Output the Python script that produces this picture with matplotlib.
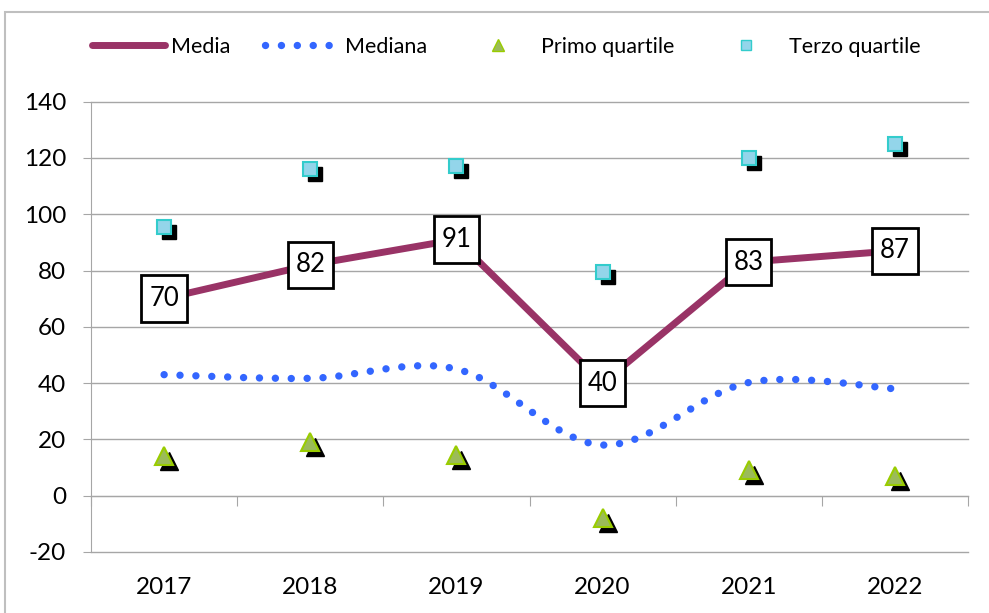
import matplotlib
matplotlib.use('Agg')
import matplotlib.pyplot as plt
from matplotlib.path import Path
from matplotlib.patches import PathPatch, Rectangle
from matplotlib.lines import Line2D
import matplotlib.transforms as mtransforms
import numpy as np

years = ['2017', '2018', '2019', '2020', '2021', '2022']
media = [70, 82, 91, 40, 83, 87]
mediana = [43, 41.7, 45, 18, 40.2, 38]
primo_quartile = [14, 19, 14.5, -8, 9, 7]
terzo_quartile = [95.5, 116, 117, 79.5, 120, 125]
y_ticks = list(range(-20, 141, 20))

plt.rcParams['font.family'] = ['Lato', 'DejaVu Sans']
plt.rcParams['axes.unicode_minus'] = False

C_MEDIA = '#993366'
C_MEDIANA = '#3366FF'
C_TRI_FC, C_TRI_EC = '#9BBB59', '#99CC00'
C_SQ_FC, C_SQ_EC = '#93D5EA', '#33CCCC'
C_GRID = '#A6A6A6'

fig = plt.figure(figsize=(9.89, 6.13), dpi=100)
ax = fig.add_axes([91 / 989, (613 - 552) / 613, (968 - 91) / 989, (552 - 101.6) / 613])

x = np.arange(len(years))
ax.set_xlim(-0.5, len(years) - 0.5)
ax.set_ylim(-20, 140)
ax.set_yticks(y_ticks)
ax.grid(axis='y', color=C_GRID, lw=1)
ax.set_axisbelow(True)
for gl in ax.get_ygridlines():
    gl.set_clip_on(False)
for s in ['top', 'right', 'bottom']:
    ax.spines[s].set_visible(False)
ax.spines['left'].set_color(C_GRID)
ax.tick_params(axis='y', length=6, color=C_GRID, pad=12, labelsize=17.5)
ax.set_xticks(x)
ax.set_xticklabels(years)
ax.tick_params(axis='x', length=0, pad=18, labelsize=17.5)

# category axis line at y=0 with boundary ticks
secax = ax.secondary_xaxis(20 / 160)
secax.set_xticks(np.arange(-0.5, len(years), 1))
secax.tick_params(length=7, color=C_GRID, labelbottom=False)
for s in secax.spines:
    secax.spines[s].set_visible(s == 'bottom')
secax.spines['bottom'].set_color(C_GRID)


def label_box(x0, y0, width, height, mutation_size):
    ph = 0.30 * mutation_size
    pv = 0.42 * mutation_size
    xa, xb = x0 - ph, x0 + width + ph
    ya, yb = y0 - pv, y0 + height + pv
    return Path([(xa, ya), (xb, ya), (xb, yb), (xa, yb), (xa, ya)], closed=True)


# Media line + labels
ax.plot(x, media, color=C_MEDIA, lw=5, solid_capstyle='butt', zorder=3)
for xi, v in zip(x, media):
    ax.text(xi, v, str(v), ha='center', va='center', fontsize=18.5, zorder=6,
            bbox=dict(boxstyle=label_box, fc='white', ec='black', lw=2))

# Mediana smoothed dotted line (Bezier through data points)
pts = [np.array([xi, yi], dtype=float) for xi, yi in zip(x, mediana)]
n = len(pts)
verts = [pts[0]]
codes = [Path.MOVETO]
for i in range(n - 1):
    p0 = pts[max(i - 1, 0)]
    p1 = pts[i]
    p2 = pts[i + 1]
    p3 = pts[min(i + 2, n - 1)]
    verts += [p1 + (p2 - p0) / 6, p2 - (p3 - p1) / 6, p2]
    codes += [Path.CURVE4] * 3
ax.add_patch(PathPatch(Path(verts, codes), fill=False, ec=C_MEDIANA, lw=5.3,
                       linestyle=(0, (0.01, 2.15)), capstyle='round', zorder=2))

# quartile markers with shadows
offset = mtransforms.ScaledTranslation(5 / 100, -5 / 100, fig.dpi_scale_trans)
tr_shadow = ax.transData + offset
ax.plot(x, primo_quartile, ls='none', marker='^', ms=13.5, mfc='black', mec='black',
        transform=tr_shadow, zorder=4)
ax.plot(x, primo_quartile, ls='none', marker='^', ms=13.5, mfc=C_TRI_FC, mec=C_TRI_EC,
        mew=1.5, zorder=5)
ax.plot(x, terzo_quartile, ls='none', marker='s', ms=10, mfc='black', mec='black',
        transform=tr_shadow, zorder=4)
ax.plot(x, terzo_quartile, ls='none', marker='s', ms=10, mfc=C_SQ_FC, mec=C_SQ_EC,
        mew=1.5, zorder=5)

# legend
handles = [
    Line2D([], [], color=C_MEDIA, lw=5, solid_capstyle='round'),
    Line2D([], [], color=C_MEDIANA, lw=5.3, ls=(0, (0.01, 2.15)), dash_capstyle='round'),
    Line2D([], [], ls='none', marker='^', ms=8, mfc=C_TRI_FC, mec=C_TRI_EC),
    Line2D([], [], ls='none', marker='s', ms=7, mfc=C_SQ_FC, mec=C_SQ_EC),
]
labels = ['Media', 'Mediana', 'Primo quartile', 'Terzo quartile']
fig.legend(handles, labels, loc='center', bbox_to_anchor=(506 / 989, 1 - 47 / 613),
           ncol=4, frameon=False, fontsize=15.5, handlelength=3.4,
           handletextpad=0.3, columnspacing=1.6)

# chart area border
fig.add_artist(Rectangle((5 / 989, -0.1), 1.2, 1 - 12 / 613 + 0.1,
                         transform=fig.transFigure, fill=False, ec='#BFBFBF', lw=1.5))

fig.savefig('out.png', dpi=100)
